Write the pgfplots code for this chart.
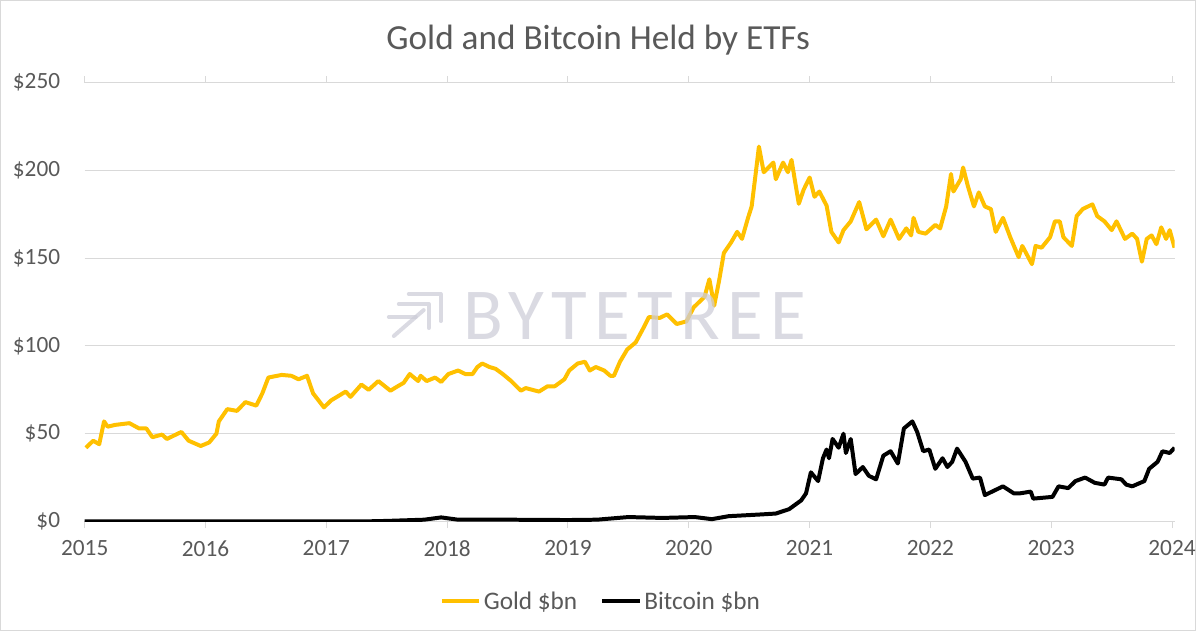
\documentclass[border=0pt]{standalone}
\usepackage{fontspec}
\setmainfont{Carlito}
\newfontfamily\wmfont[LetterSpace=10]{Carlito}
\usepackage{pgfplots}
\pgfplotsset{compat=1.18}
\definecolor{gold}{HTML}{FFC000}
\definecolor{txt}{HTML}{595959}
\definecolor{gridc}{HTML}{D9D9D9}
\definecolor{wm}{HTML}{CDCDD8}
\begin{document}
\begin{tikzpicture}
\draw[gridc, line width=0.75pt] (0.4pt,0.4pt) rectangle (899.6pt,474.35pt);
\node[txt, font=\fontsize{26.5}{30}\selectfont] at (450pt,444.75pt) {Gold and Bitcoin Held by ETFs};
\begin{axis}[
  at={(63.75pt,82.5pt)}, anchor=south west,
  scale only axis, width=819.75pt, height=330pt,
  xmin=2015, xmax=2024.02, ymin=0, ymax=250,
  /pgf/number format/assume math mode=true,
  y axis line style={draw=none},
  x axis line style={gridc, line width=0.75pt},
  ytick={0,50,...,250},
  yticklabels={\$0,\$50,\$100,\$150,\$200,\$250},
  ymajorgrids, grid style={gridc, line width=0.75pt},
  y tick style={draw=none},
  xtick={2015,...,2024},
  xticklabels={2015,2016,2017,2018,2019,2020,2021,2022,2023,2024},
  x tick style={gridc, line width=0.75pt},
  tick align=outside, major tick length=5pt,
  ticklabel style={font=\fontsize{17.5}{20}\selectfont, text=txt},
  yticklabel style={xshift=-10pt},
  xticklabel style={yshift=-6pt},
  legend style={at={(0.474,-0.182)}, anchor=center, draw=none, legend columns=2,
    font=\fontsize{19}{22}\selectfont, text=txt,
    /tikz/every even column/.append style={column sep=15.5pt}},
  legend image code/.code={\draw[#1, line width=3pt] (0pt,0pt) -- (28pt,0pt);},
]
\addplot[gold, line width=3pt, line join=round] coordinates {
(2015.01,42) (2015.07,46) (2015.12,44) (2015.16,57) (2015.19,54) (2015.25,55)
(2015.37,56) (2015.45,53) (2015.51,53) (2015.56,48) (2015.64,49.5) (2015.68,47)
(2015.80,51) (2015.86,46) (2015.96,43) (2016.03,45) (2016.09,50) (2016.11,57)
(2016.18,64) (2016.26,63) (2016.33,68) (2016.42,66) (2016.47,73) (2016.52,82)
(2016.63,83.5) (2016.71,83) (2016.77,81) (2016.84,83) (2016.89,73) (2016.98,65)
(2017.04,69) (2017.16,74) (2017.20,71) (2017.29,78) (2017.35,75) (2017.43,80)
(2017.53,74.5) (2017.59,77) (2017.64,79) (2017.69,84) (2017.76,80) (2017.78,83)
(2017.83,80) (2017.90,82) (2017.95,79.5) (2018.01,84) (2018.09,86) (2018.15,84)
(2018.21,84) (2018.25,88) (2018.29,90) (2018.35,88) (2018.40,87) (2018.46,84)
(2018.53,80) (2018.61,74.5) (2018.65,76) (2018.76,74) (2018.83,77) (2018.89,77)
(2018.97,81) (2019.01,86) (2019.08,90) (2019.14,91) (2019.18,86) (2019.23,88)
(2019.30,86) (2019.35,83) (2019.38,83) (2019.43,91) (2019.49,98) (2019.56,102)
(2019.63,111) (2019.67,116.5) (2019.76,116) (2019.82,118) (2019.90,112.5) (2019.98,114)
(2020.04,122) (2020.13,128) (2020.17,138) (2020.21,123) (2020.25,137) (2020.29,153)
(2020.35,159) (2020.40,165) (2020.44,161) (2020.49,173) (2020.52,179.5) (2020.56,202)
(2020.58,213.6) (2020.62,199) (2020.70,204.5) (2020.72,195) (2020.78,204.5) (2020.82,199)
(2020.85,206) (2020.91,181) (2020.95,189) (2021.00,196) (2021.04,185) (2021.08,188)
(2021.14,180) (2021.18,165) (2021.24,159) (2021.28,166) (2021.34,171) (2021.41,182)
(2021.47,166.5) (2021.55,172) (2021.61,162.5) (2021.67,172) (2021.74,161) (2021.80,167)
(2021.84,163) (2021.86,173) (2021.90,165) (2021.96,164) (2022.04,169) (2022.08,167)
(2022.13,179.5) (2022.17,198) (2022.19,188) (2022.25,195) (2022.27,201.7) (2022.31,191)
(2022.36,179.5) (2022.40,187.5) (2022.45,179.5) (2022.50,178) (2022.54,165) (2022.60,173)
(2022.66,162) (2022.73,150.6) (2022.76,157) (2022.84,146.6) (2022.87,157) (2022.92,156)
(2022.99,162) (2023.03,171) (2023.07,171) (2023.10,162) (2023.17,157) (2023.21,174)
(2023.26,178) (2023.34,180.7) (2023.38,174) (2023.44,171) (2023.50,166) (2023.54,171)
(2023.61,161) (2023.67,164) (2023.71,161) (2023.75,148) (2023.79,161) (2023.83,163)
(2023.87,158) (2023.91,167.6) (2023.95,161) (2023.98,166) (2024.02,156)
};
\addlegendentry{Gold \$bn}
\addplot[black, line width=3pt, line join=round] coordinates {
(2015.00,0) (2017.30,0) (2017.50,0.3) (2017.81,1) (2017.95,2.3) (2018.09,1)
(2018.50,1) (2019.00,0.8) (2019.24,1) (2019.50,2.5) (2019.78,2) (2020.05,2.5)
(2020.19,1.3) (2020.33,3) (2020.60,4) (2020.72,4.5) (2020.83,7) (2020.93,12)
(2020.97,16) (2021.01,28) (2021.07,23) (2021.11,36) (2021.14,41) (2021.16,36)
(2021.19,47) (2021.24,42) (2021.28,50) (2021.30,39) (2021.34,47) (2021.38,27)
(2021.44,31) (2021.49,26) (2021.55,24) (2021.61,37.5) (2021.67,40) (2021.73,33)
(2021.78,53) (2021.85,57) (2021.89,51) (2021.94,40) (2021.99,41) (2022.04,30)
(2022.10,36) (2022.14,31) (2022.18,34) (2022.22,41.5) (2022.29,34) (2022.35,24.4)
(2022.41,25) (2022.45,15) (2022.54,18) (2022.60,20) (2022.69,16) (2022.74,16)
(2022.83,17) (2022.85,13) (2023.01,14) (2023.06,20) (2023.14,19) (2023.20,23)
(2023.28,25) (2023.36,22) (2023.44,21) (2023.47,25) (2023.58,24) (2023.62,21)
(2023.67,20) (2023.77,23) (2023.81,30) (2023.88,34) (2023.92,40) (2023.98,39)
(2024.02,42)
};
\addlegendentry{Bitcoin \$bn}
\end{axis}
% watermark
\begin{scope}[wm, opacity=0.75, line width=3pt, line cap=round, line join=round]
\draw (307.5pt,253.5pt) -- (331.5pt,253.5pt) -- (331.5pt,233.25pt);
\draw (300pt,246pt) -- (322.5pt,246pt) -- (322.5pt,228pt);
\draw (296.25pt,222pt) -- (318.75pt,241.5pt);
\draw (292.5pt,236.25pt) -- (312.75pt,236.25pt);
\node[text=wm, font=\wmfont\fontsize{55}{62}\selectfont, anchor=center] at (477.75pt,237pt) {BYTETREE};
\end{scope}
\end{tikzpicture}
\end{document}
